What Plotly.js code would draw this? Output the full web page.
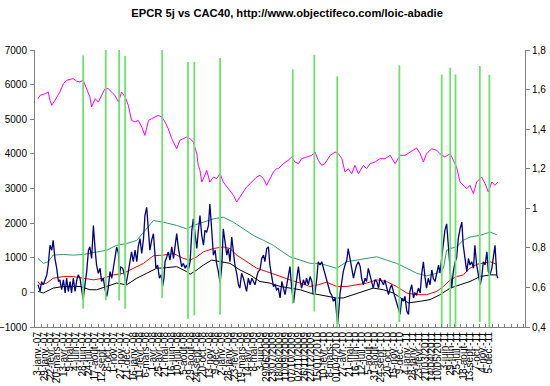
<!DOCTYPE html>
<html>
<head>
<meta charset="utf-8">
<script src="https://cdn.plot.ly/plotly-3.0.1.min.js"></script>
<style>html,body{margin:0;padding:0;background:#fff;}#chart{width:550px;height:386px;}</style>
</head>
<body>
<div id="chart"></div>
<script>
// Category index = row number of the trading-day table (one label every 18 rows)
const tickLabels = ["3-janv.-07","29-janv.-07","22-févr.-07","20-mars-07","13-avr.-07","9-mai-07","4-juin-07","28-juin-07","24-juil.-07","17-août-07",
"12-sept.-07","8-oct.-07","1-nov.-07","27-nov.-07","21-déc.-07","16-janv.-08","11-févr.-08","6-mars-08","1-avr.-08","25-avr.-08",
"21-mai-08","16-juin-08","10-juil.-08","5-août-08","29-août-08","24-sept.-08","20-oct.-08","13-nov.-08","9-déc.-08","2-janv.-09",
"28-janv.-09","23-févr.-09","19-mars-09","14-avr.-09","8-mai-09","3-juin-09","29/06/2009","23/07/2009","18/08/2009","11/09/2009",
"07/10/2009","02/11/2009","26/11/2009","22/12/2009","15/01/2010","10-févr.-10","8-mars-10","01/04/2010","27-avr.-10","21-mai-10",
"16-juin-10","12-juil.-10","5-août-10","31-août-10","24-sept.-10","20-oct.-10","15-nov.-10","9-déc.-10","4-janv.-11","28-janv.-11",
"23-févr.-11","21/03/2011","14/04/2011","10/05/2011","3-juin-11","29-juin-11","25-juil.-11","18-août-11","13-sept.-11","7-oct.-11",
"4-nov.-11","5-déc.-11"];
const rowsPerLabel = 18;

// CAC40 (left axis)
const cacX = [0,6,20,29,34,39,48,62,72,81,91,100,110,119,128,138,147,152,162,171,180,190,199,209,218,228,237,247,256,265,275,284,294,303,313,322,332,341,351,360,369,379,393,402,412,421,431,440,450,454,459,464,469,478,487,497,506,516,525,535,544,554,563,572,582,591,601,610,620,629,639,648,657,667,676,
681,695,709,719,728,738,747,761,776,785,794,804,813,828,842,851,861,870,879,889,898,908,922,931,941,955,969,983,998,1012,1026,1040,1054,1073,1083,1092,1101,1116,1130,1139,1153,1168,1177,1186,1196,1205,1215,1224,1234,1243,1257,1267,1276,1286,1295,1303];
const cacY = [5594,5690,5739,5787,5546,5402,5546,5787,6027,6124,6153,6172,6095,6076,6124,5883,5642,5354,5594,5498,5690,5883,5883,5787,5690,5498,5787,5642,5402,4968,4920,4968,4776,4535,4968,5016,5065,5113,5065,4920,4728,4439,4150,4391,4439,4487,4439,4343,4006,3669,3524,3187,3284,3524,3187,3332,3284,3428,3187,3043,2947,2802,2610,2754,2899,3043,3139,3236,3332,3380,3284,3091,3284,3476,3572,
3572,3717,3813,3909,3765,3717,3861,3909,3958,4054,3813,3669,3717,3958,4054,4006,3861,3476,3572,3428,3669,3428,3669,3572,3717,3765,3861,3861,3958,3717,3958,3958,4054,4169,4006,3765,4006,4150,4102,4006,3909,4006,3813,3621,3187,3091,2995,3091,2850,3187,3332,3139,2899,3187,3091,3187];

// EPCR 5j indicator (left axis)
const epcrX = [0,6,10,15,25,29,34,39,43,48,53,58,62,67,72,77,81,86,91,95,100,105,110,114,119,124,128,133,138,143,147,152,157,162,166,171,176,180,185,190,195,199,204,209,214,218,223,228,231,234,240,245,249,256,261,265,270,275,280,284,289,294,299,303,308,313,317,322,327,332,334,339,344,349,353,357,360,365,369,374,379,384,388,393,398,402,407,412,417,421,426,431,436,440,445,450,454,459,464,469,473,478,483,487,492,497,502,506,511,516,521,525,530,535,539,544,549,554,558,563,568,572,577,582,587,591,596,601,606,610,615,620,624,629,634,639,643,648,653,657,662,667,672,676,681,
686,691,695,700,705,709,714,719,724,728,733,738,743,747,752,757,761,766,771,776,780,785,790,794,799,804,809,813,818,823,828,832,837,842,846,849,853,856,861,865,870,875,879,884,889,894,898,903,908,913,917,922,927,931,936,941,946,950,955,960,965,969,974,979,983,988,993,998,1002,1007,1012,1016,1021,1026,1031,1035,1040,1045,1050,1054,1059,1064,1068,1073,1078,1083,1087,1092,1097,1101,1106,1111,1116,1120,1125,1130,1135,1139,1144,1149,1153,1158,1163,1168,1172,1177,1182,1186,1191,1196,1201,1205,1210,1215,1220,1224,1229,1234,1238,1243,1248,1253,1257,1262,1267,1272,1276,1281,1286,1290,1295,1300,1303];
const epcrY = [219,29,314,219,505,790,1361,1219,1504,981,695,314,362,76,362,-19,409,29,314,-19,409,29,362,505,409,29,-209,219,600,1219,1314,981,1933,1219,790,552,695,314,409,76,-114,124,600,409,695,1028,1314,1123,457,743,695,505,219,600,933,1171,885,1219,885,1314,1552,1123,1552,2218,2456,1647,1219,1504,1695,1028,695,790,409,505,171,409,885,1028,1171,933,1314,981,1361,1695,1266,981,743,838,695,790,647,885,1790,2123,1599,1266,1742,2218,1647,1361,1790,1742,1933,2551,1837,1076,1219,838,600,267,790,1837,1457,1076,1266,885,1599,1076,790,552,219,124,552,409,219,29,409,219,409,314,219,457,600,647,981,1076,885,1266,1314,790,409,171,219,76,124,
-162,314,124,-67,219,409,743,124,-305,29,409,743,314,124,362,219,409,219,457,314,-67,-19,409,885,790,885,695,552,409,171,-19,-67,-257,-162,-543,-923,-447,-19,314,600,790,933,1266,981,647,409,600,790,885,743,409,219,409,314,695,505,267,124,362,314,124,409,314,219,362,124,-67,124,219,29,-162,-305,-447,-638,-162,-257,-114,-543,-638,29,219,-162,-19,-67,124,-19,505,885,409,124,409,219,647,409,314,600,790,552,981,1361,1790,1980,1361,695,124,600,885,981,1552,1837,2028,1361,885,600,981,790,885,695,1361,790,505,219,409,885,790,1171,600,505,695,981,1361,505,409];

// Moving average (red)
const maX = [0,6,25,43,72,100,128,157,185,214,242,270,299,327,355,384,412,431,450,469,497,525,544,563,591,620,648,686,714,743,771,794,818,846,875,903,931,960,988,1016,1045,1073,1101,1130,1149,1168,1186,1205,1224,1243,1262,1281,1300];
const maY = [314,219,267,409,457,457,409,362,409,505,552,695,838,1057,1076,1123,981,933,1028,1171,1266,1314,1266,1076,885,695,600,457,362,267,171,219,295,171,171,219,267,362,314,171,-19,-67,-67,29,171,362,457,505,695,809,838,885,809];

// Lower band (black)
const lowX = [0,15,43,72,119,147,166,195,223,251,280,308,336,365,393,421,431,450,469,492,516,544,572,601,629,657,686,714,743,771,799,828,846,865,894,922,950,979,1007,1035,1050,1083,1111,1139,1168,1196,1224,1253,1281,1300];
const lowY = [29,-19,124,171,171,76,76,171,267,219,409,552,695,714,743,600,524,647,790,933,885,838,647,505,314,267,171,124,76,-19,-67,-114,-162,-162,-67,29,124,76,-19,-209,-305,-257,-209,-67,124,219,314,457,505,505];

// Upper band (green)
const upX = [0,15,29,43,72,100,128,166,195,223,251,280,308,327,355,393,421,440,469,497,525,554,582,610,639,667,686,714,743,771,799,828,846,875,903,931,960,988,1016,1045,1073,1101,1130,1149,1158,1168,1186,1205,1224,1253,1281,1300];
const upY = [981,838,885,1076,1095,1076,1095,1171,1219,1361,1409,1504,1837,2075,2028,1933,1837,1933,2028,2123,2171,2028,1837,1647,1504,1361,1219,1028,933,838,838,743,695,885,933,981,1028,933,838,695,552,476,552,695,1219,1266,1314,1504,1599,1647,1742,1666];

// Signals (vertical green lines): row, low end, high end
const sigX = [128,192,230,247,352,425,443,516,722,783,848,1024,1144,1168,1183,1252,1279];
const sigLow = [-471,-231,-231,-471,-162,-760,-664,-644,-326,-549,-1140,-855,-1090,-1090,-1090,-855,-1090];
const sigHigh = [6845,7087,7087,6827,7133,6654,6654,6769,6440,6865,6238,6556,6296,6489,6296,6538,6287];

// build the signal segments
const segX = [], segY = [];
for (let i = 0; i < sigX.length; i++) {
  segX.push(sigX[i], sigX[i], null);
  segY.push(sigLow[i], sigHigh[i], null);
}
const tickvals = tickLabels.map((_, i) => i * rowsPerLabel);

const line = (x, y, color, width) => ({x, y, type:'scatter', mode:'lines', line:{color, width}, hoverinfo:'skip'});
const data = [
  line(upX, upY, '#339966', 1),
  line(lowX, lowY, '#000000', 1),
  line(maX, maY, '#FF0000', 1),
  line(epcrX, epcrY, '#000080', 1.3),
  line(cacX, cacY, '#FF00FF', 1),
  Object.assign(line(segX, segY, '#6EE06E', 1.8), {connectgaps:false}),
  {x:[0], y:[1], type:'scatter', mode:'lines', yaxis:'y2', line:{width:0}, hoverinfo:'skip'}
];

const axisFont = {family:'"Liberation Sans", Arial, sans-serif', size:10, color:'#000'};
const layout = {
  width:550, height:386,
  margin:{l:35, r:25, t:50, b:59, pad:0},
  paper_bgcolor:'#ffffff', plot_bgcolor:'#ffffff',
  showlegend:false,
  separators:', ',
  font:axisFont,
  title:{text:'EPCR 5j vs CAC40, http://www.objectifeco.com/loic-abadie',
         font:{family:'"Liberation Sans", Arial, sans-serif', size:11.2, color:'#000', weight:'bold'},
         xref:'container', yref:'container', x:0.522, y:0.966, xanchor:'center', yanchor:'middle'},
  xaxis:{range:[-8.5,1380], showgrid:false, zeroline:false, showline:true, linecolor:'#808080', linewidth:1,
         tickmode:'array', tickvals:tickvals, ticktext:tickLabels, tickangle:-90, ticks:'',
         tickfont:{family:'"Liberation Sans", Arial, sans-serif', size:10, color:'#000'},
         minor:{ticks:'inside', ticklen:3, tickcolor:'#808080', tickmode:'linear', tick0:-9, dtick:rowsPerLabel, showgrid:false}},
  yaxis:{range:[-1000,7000], tick0:0, dtick:1000, showgrid:false, zeroline:false, showline:true, linecolor:'#808080', linewidth:1,
         ticks:'outside', ticklen:4, tickcolor:'#808080', tickfont:axisFont, ticklabelstandoff:1},
  yaxis2:{overlaying:'y', side:'right', range:[0.4,1.8], tick0:0.4, dtick:0.2, showgrid:false, zeroline:false, showline:true,
          linecolor:'#808080', linewidth:1, ticks:'outside', ticklen:4, tickcolor:'#808080', tickfont:axisFont}
};
Plotly.newPlot('chart', data, layout, {staticPlot:true, displayModeBar:false});
</script>
</body>
</html>
